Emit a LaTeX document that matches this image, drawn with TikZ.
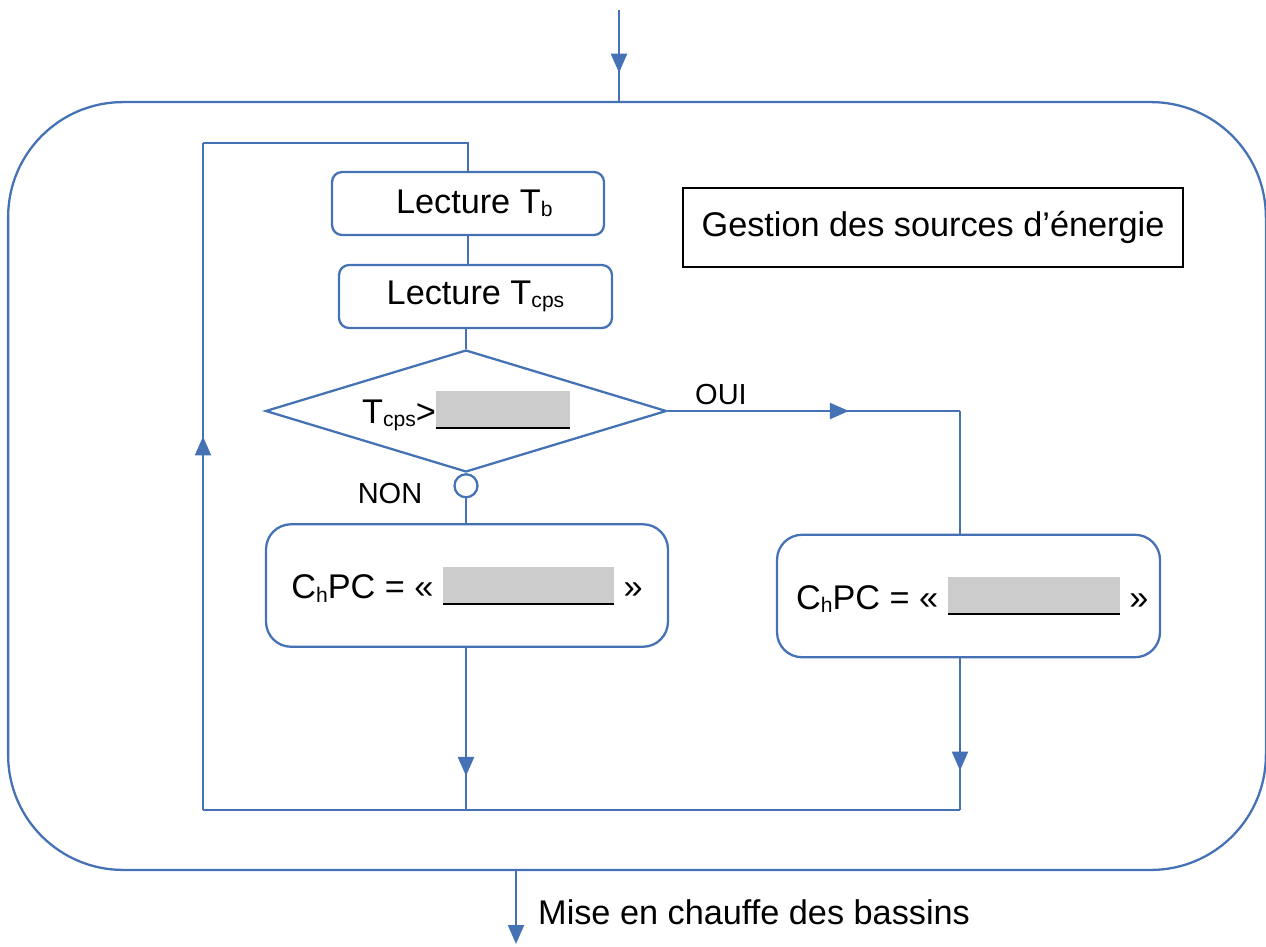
\documentclass[tikz,border=0pt]{standalone}
\usepackage{fontspec}
\setmainfont{Liberation Sans}
\usepackage{tikz}
\usetikzlibrary{arrows.meta}
\usetikzlibrary{shapes.geometric,decorations.markings}
\usepackage{xcolor}
\definecolor{bleu}{RGB}{68,114,180}
\definecolor{champgris}{RGB}{204,204,204}
\newcommand{\ind}[1]{\raisebox{-2pt}{\fontsize{12}{12}\selectfont #1}}
\newcommand{\champ}[1]{{\color{champgris}\rule[-0.12cm]{#1}{0.76cm}}\hspace{-#1}\rule[-0.12cm]{#1}{0.9pt}}
\tikzset{
    flow/.style={
        draw=bleu,
        line width=1.3pt
    },
    midarrow/.style={
        postaction={decorate},
        decoration={markings,
            mark=at position #1 with {\arrow{Triangle[length=3.8mm, width=3.2mm]}}}
    },
    lecture/.style={
        draw=bleu,
        line width=1.3pt,
        rounded corners=0.2cm,
        minimum height=1.26cm,
        inner sep=0pt
    },
    action/.style={
        draw=bleu,
        line width=1.3pt,
        rounded corners=0.5cm,
        minimum height=2.45cm,
        inner sep=0pt
    },
    decision/.style={
        draw=bleu,
        line width=1.3pt,
        diamond,
        aspect=3.3,
        inner sep=1pt,
        minimum width=8.02cm,
        minimum height=2.44cm
    },
    connecteur/.style={
        draw=bleu,
        line width=1.3pt,
        circle,
        inner sep=0pt,
        minimum size=0.46cm
    },
    etiquette/.style={
        font=\fontsize{16.5}{20}\selectfont
    }
}

\begin{document}
\begin{tikzpicture}[x=0.02cm, y=-0.02cm,
    every node/.style={font=\fontsize{19.5}{23}\selectfont}]
    \useasboundingbox (0,0) rectangle (1266,946);
    % Outer block
    \node[flow, rounded corners=2.3cm, minimum width=25.16cm, minimum height=15.36cm,
        inner sep=0pt] (bloc) at (637,486) {};
    \node[draw=black, line width=1pt, minimum width=10cm, minimum height=1.58cm,
        inner sep=0pt] (titre) at (933,227.5) {Gestion des sources d’énergie};

    % Boxes
    \node[lecture, minimum width=5.44cm] (lectb) at (468,203.5) {\hspace{0.25cm}Lecture T\ind{b}};
    \node[lecture, minimum width=5.46cm] (lectcps) at (475.5,296.5) {Lecture T\ind{cps}};
    \node[decision] (test) at (466,411) {T\ind{cps}>\champ{2.68cm}};
    \node[connecteur, anchor=north] (non) at (test.south) {};
    \node[action, minimum width=8.04cm] (chpcL) at (467,585.5)
        {C\ind{h}PC = « \champ{3.42cm} »};
    \node[action, minimum width=7.66cm] (chpcR) at (968.5,596)
        {\hspace{0.15cm}C\ind{h}PC = « \champ{3.44cm} »};

    % Labels
    \node[etiquette] (oui) at (721,395) {OUI};
    \node[etiquette] (nonlbl) at (390,494) {NON};
    \node[anchor=west] (sortielbl) at (532,912) {Mise en chauffe des bassins};

    % Corners
    \coordinate (entree) at (619,10);
    \coordinate (sortie) at (516,944);
    \coordinate (cOui) at (960,411);
    \coordinate (jR) at (960,810);
    \coordinate (jL) at (466,810);
    \coordinate (cBL) at (203,810);
    \coordinate (cTL) at (203,143);
    \coordinate (cTR) at (468,143);

    % Edges
    \draw[flow, midarrow=0.69] (entree) -- (entree |- bloc.north);
    \draw[flow, -{Triangle[length=3.8mm, width=3.2mm]}] (sortie |- bloc.south) -- (sortie);
    \draw[flow] (lectb) -- (lectb.south |- lectcps.north);
    \draw[flow] (test.north |- lectcps.south) -- (test.north);
    \draw[flow] (non.south) -- (non.south |- chpcL.north);
    \draw[flow, midarrow=0.62] (test.east) -- (cOui);
    \draw[flow] (cOui) -- (cOui |- chpcR.north);
    \draw[flow, midarrow=0.74] (cOui |- chpcR.south) -- (jR);
    \draw[flow, midarrow=0.79] (non.south |- chpcL.south) -- (jL);
    \draw[flow] (jR) -- (cBL);
    \draw[flow, midarrow=0.56] (cBL) -- (cTL);
    \draw[flow] (cTL) -- (cTR) -- (lectb.north);
\end{tikzpicture}
\end{document}
